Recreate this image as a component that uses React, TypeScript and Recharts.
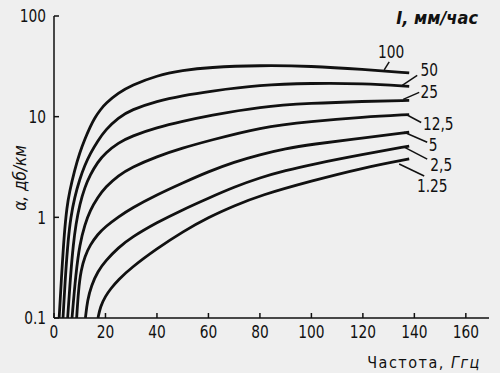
import React from 'react';
import { LineChart, Line, XAxis, YAxis } from 'recharts';

// rain intensity, mm/hour (curve labels as printed)
const rainRates = ['100', '50', '25', '12,5', '5', '2,5', '1.25'];

// frequency (GHz) / attenuation (dB/km)
const freq100 = [2, 3, 4, 5, 6, 8, 10, 12, 14, 16, 18, 20, 25, 30, 40, 50, 60, 80, 100, 120, 138];
const atten100 = [0.1, 0.28, 0.7, 1.26, 1.78, 2.95, 4.4, 6.0, 7.9, 9.9, 11.7, 13.5, 17.2, 20.4, 25.7, 28.8, 30.9, 32.4, 31.8, 29.5, 27.2];

const freq50 = [3.5, 4.5, 5.5, 6.5, 8, 10, 12, 14, 17, 20, 25, 30, 40, 50, 60, 80, 100, 120, 138];
const atten50 = [0.1, 0.28, 0.6, 1.0, 1.58, 2.4, 3.3, 4.27, 5.75, 7.4, 9.8, 11.7, 14.3, 16.2, 17.8, 20.7, 21.5, 21.4, 20];

const freq25 = [5.3, 6.5, 7.5, 8.5, 10, 12, 14, 17, 20, 25, 30, 40, 50, 60, 80, 100, 120, 138];
const atten25 = [0.1, 0.28, 0.54, 0.85, 1.35, 2.0, 2.63, 3.55, 4.37, 5.5, 6.4, 7.8, 9.0, 10.2, 12.6, 13.6, 14.2, 14.5];

const freq12 = [7, 8.5, 10, 12, 14, 17, 20, 25, 30, 40, 50, 60, 80, 100, 120, 138];
const atten12 = [0.1, 0.28, 0.54, 0.85, 1.17, 1.58, 2.0, 2.6, 3.13, 4.03, 4.9, 5.75, 7.85, 9.0, 9.9, 10.5];

const freq5 = [8.8, 9.5, 10.5, 12, 14, 17, 20, 25, 30, 40, 50, 60, 70, 80, 90, 100, 120, 138];
const atten5 = [0.1, 0.19, 0.3, 0.41, 0.53, 0.68, 0.81, 1.01, 1.23, 1.68, 2.2, 2.85, 3.55, 4.2, 4.84, 5.3, 6.15, 7.0];

const freq2 = [12.2, 13, 14.5, 17, 20, 25, 30, 40, 50, 60, 70, 80, 90, 100, 120, 138];
const atten2 = [0.1, 0.15, 0.21, 0.29, 0.37, 0.5, 0.63, 0.89, 1.19, 1.55, 2.0, 2.48, 2.92, 3.35, 4.22, 5.1];

const freq1 = [17.1, 18, 20, 22, 25, 30, 40, 50, 60, 70, 80, 100, 120, 138];
const atten1 = [0.1, 0.13, 0.165, 0.195, 0.24, 0.316, 0.49, 0.72, 1.0, 1.3, 1.65, 2.3, 3.1, 3.8];

const xTicks = [0, 20, 40, 60, 80, 100, 120, 140, 160];
const yTicks = [0.1, 1, 10, 100];

const curves = [
  [freq100, atten100],
  [freq50, atten50],
  [freq25, atten25],
  [freq12, atten12],
  [freq5, atten5],
  [freq2, atten2],
  [freq1, atten1],
].map(([f, a], i) => ({
  name: rainRates[i],
  data: f.map((v, j) => ({ f: v, a: a[j] })),
}));

// leader line + text offset from the curve's last point
const leaders = [
  { x1: -25, y1: -3, x2: -20, y2: -11, tx: -18, ty: -21 },
  { x1: -7, y1: -1, x2: 8, y2: -11, tx: 20, ty: -17 },
  { x1: -6, y1: -1, x2: 10, y2: -8, tx: 20, ty: -9 },
  { x1: -3, y1: 0, x2: 12, y2: 8, tx: 29, ty: 9 },
  { x1: -5, y1: 0, x2: 18, y2: 10, tx: 24, ty: 12 },
  { x1: -5, y1: 1, x2: 18, y2: 13, tx: 32, ty: 18 },
  { x1: -10, y1: 5, x2: 15, y2: 17, tx: 23, ty: 27 },
];

const FONT = '"Liberation Sans Narrow", "DejaVu Sans Condensed", sans-serif';
const INK = '#111';
const SQUEEZE = 0.85;

// narrowed digits, closer to the condensed face of the original
const NarrowText = ({ x, y, anchor, dy, size = 18, children }: any) => (
  <text transform={`translate(${x} ${y}) scale(${SQUEEZE} 1)`} textAnchor={anchor} dy={dy}
    fontFamily={FONT} fontSize={size} fill={INK}>
    {children}
  </text>
);

const XTick = (props: any) => (
  <NarrowText x={props.x} y={props.y} anchor="middle" dy="0.71em">{props.payload.value}</NarrowText>
);

const YTick = (props: any) => (
  <NarrowText x={props.x} y={props.y} anchor="end" dy="0.36em">{String(props.payload.value)}</NarrowText>
);

const endLabel = (i: number, last: number) => (props: any) => {
  const { x, y, index } = props;
  if (index !== last) return null;
  const l = leaders[i];
  return (
    <g>
      <line x1={x + l.x1} y1={y + l.y1} x2={x + l.x2} y2={y + l.y2} stroke={INK} strokeWidth={1.5} />
      <NarrowText x={x + l.tx} y={y + l.ty} anchor="middle" dy="0.36em">{rainRates[i]}</NarrowText>
    </g>
  );
};

export default function App() {
  return (
    <div style={{ position: 'absolute', left: 0, top: 0, width: 500, height: 373, background: '#efefef' }}>
      <LineChart width={500} height={373} margin={{ top: 16, right: 11, bottom: 25, left: 0 }}>
        <XAxis
          dataKey="f"
          type="number"
          domain={[0, 169]}
          ticks={xTicks}
          allowDataOverflow
          height={30}
          tickSize={-5}
          tickMargin={12}
          stroke={INK}
          strokeWidth={1.5}
          tick={XTick}
        />
        <YAxis
          type="number"
          scale="log"
          domain={[0.1, 100]}
          ticks={yTicks}
          allowDataOverflow
          width={54}
          tickSize={-5}
          tickMargin={13}
          stroke={INK}
          strokeWidth={1.5}
          tick={YTick}
        />
        {curves.map((c, i) => (
          <Line
            key={c.name}
            data={c.data}
            dataKey="a"
            type="basis"
            stroke={INK}
            strokeWidth={2.8}
            dot={false}
            isAnimationActive={false}
            label={endLabel(i, c.data.length - 1)}
          />
        ))}
      </LineChart>
      <svg width={500} height={373} style={{ position: 'absolute', left: 0, top: 0, pointerEvents: 'none' }}>
        <text x={478} y={17} textAnchor="end" dominantBaseline="central" fontFamily={FONT}
          fontSize={18} fontStyle="italic" fontWeight={600} fill={INK}>
          I, мм/час
        </text>
        <text x={20} y={178} transform="rotate(-90 20 178)" textAnchor="middle" dominantBaseline="central"
          fontFamily={FONT} fontSize={17} fontStyle="italic" fill={INK}>
          α, дб/км
        </text>
        <text x={424} y={362} textAnchor="middle" dominantBaseline="central" fontFamily={FONT}
          fontSize={16} letterSpacing={1.5} fill={INK}>
          Частота, <tspan fontStyle="italic">Ггц</tspan>
        </text>
      </svg>
    </div>
  );
}
